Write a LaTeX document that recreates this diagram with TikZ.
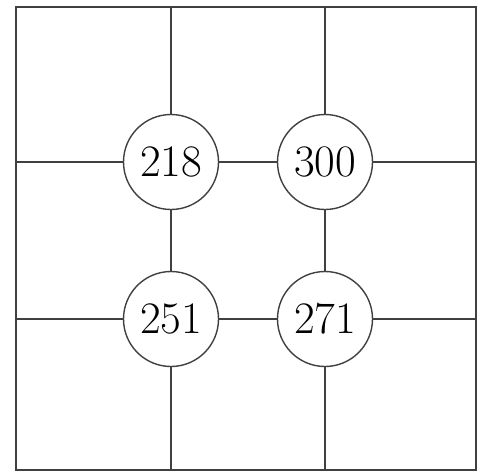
\documentclass[tikz,border=0pt]{standalone}
\begin{document}
\begin{tikzpicture}[x=1pt,y=-1pt,
  gridline/.style={draw=black!75,line width=1.6pt},
  numcircle/.style={circle,draw=black!75,line width=1.4pt,fill=white,minimum size=95pt,inner sep=0pt,font=\fontsize{45}{45}\selectfont}]
\useasboundingbox (0,0) rectangle (485,472);
\coordinate (tl) at (16,7);
\coordinate (br) at (476,470);
\draw[gridline] (tl) rectangle (br);
\coordinate (v1t) at (171,7);
\coordinate (v1b) at (171,470);
\coordinate (v2t) at (325,7);
\coordinate (v2b) at (325,470);
\coordinate (h1l) at (16,162);
\coordinate (h1r) at (476,162);
\coordinate (h2l) at (16,319);
\coordinate (h2r) at (476,319);
\draw[gridline] (v1t) -- (v1b);
\draw[gridline] (v2t) -- (v2b);
\draw[gridline] (h1l) -- (h1r);
\draw[gridline] (h2l) -- (h2r);
\node[numcircle] (a) at (171,162) {218};
\node[numcircle] (b) at (325,162) {300};
\node[numcircle] (c) at (171,319) {251};
\node[numcircle] (d) at (325,319) {271};
\end{tikzpicture}
\end{document}
